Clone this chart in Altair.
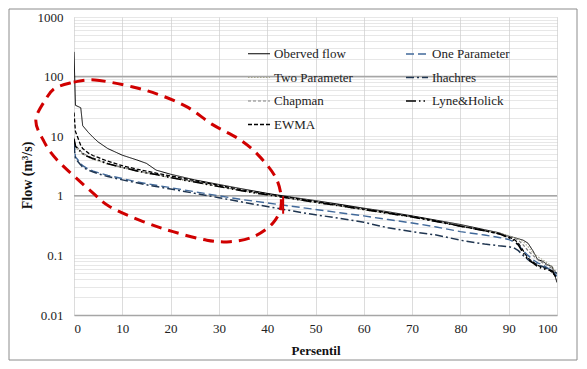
import altair as alt
import pandas as pd

# ---------------- data ----------------
percentil = [0, 0.3, 1.4, 1.8, 3, 4, 5, 7, 10, 13, 15, 17, 20, 25, 30, 35, 40, 45, 50, 55,
             60, 65, 70, 75, 80, 85, 88, 90, 91, 92, 93, 94, 95, 96, 97, 98, 99, 100]

observed = [260, 33, 30, 15, 11.5, 9.5, 8.0, 6.2, 4.8, 4.0, 3.5, 2.7, 2.3, 1.85, 1.55, 1.3, 1.1, 0.95, 0.83, 0.72,
            0.62, 0.54, 0.46, 0.39, 0.33, 0.27, 0.24, 0.21, 0.2, 0.19, 0.18, 0.16, 0.12, 0.085, 0.08, 0.07, 0.065, 0.035]
one_param = [8, 4.5, 3.5, 3.2, 2.8, 2.6, 2.45, 2.2, 1.95, 1.72, 1.6, 1.5, 1.37, 1.17, 1.0, 0.86, 0.76, 0.67, 0.59, 0.52,
             0.46, 0.4, 0.35, 0.3, 0.25, 0.22, 0.2, 0.185, 0.17, 0.15, 0.12, 0.1, 0.085, 0.075, 0.07, 0.062, 0.055, 0.045]
two_param = [8.5, 6.5, 5.3, 5.0, 4.4, 4.1, 3.85, 3.4, 2.95, 2.6, 2.4, 2.25, 2.0, 1.7, 1.42, 1.2, 1.03, 0.89, 0.77, 0.67,
             0.58, 0.5, 0.44, 0.37, 0.31, 0.26, 0.235, 0.215, 0.2, 0.19, 0.17, 0.14, 0.11, 0.095, 0.085, 0.075, 0.065, 0.05]
ihachres = [7, 4.2, 3.3, 3.0, 2.7, 2.5, 2.35, 2.1, 1.85, 1.65, 1.53, 1.43, 1.3, 1.1, 0.93, 0.78, 0.66, 0.56, 0.48, 0.42,
            0.36, 0.29, 0.25, 0.22, 0.18, 0.155, 0.145, 0.14, 0.135, 0.12, 0.1, 0.085, 0.075, 0.07, 0.065, 0.06, 0.055, 0.05]
chapman = [9.5, 7, 5.6, 5.2, 4.6, 4.3, 4.0, 3.5, 3.0, 2.65, 2.45, 2.3, 2.05, 1.72, 1.45, 1.22, 1.05, 0.9, 0.78, 0.68,
           0.59, 0.51, 0.44, 0.37, 0.31, 0.26, 0.23, 0.21, 0.2, 0.18, 0.15, 0.12, 0.1, 0.085, 0.075, 0.068, 0.06, 0.05]
lyne_holick = [9, 6.8, 5.5, 5.1, 4.5, 4.2, 3.95, 3.45, 3.0, 2.62, 2.42, 2.28, 2.02, 1.7, 1.43, 1.2, 1.04, 0.9, 0.78, 0.68,
               0.59, 0.51, 0.44, 0.37, 0.31, 0.26, 0.23, 0.2, 0.18, 0.15, 0.11, 0.085, 0.075, 0.065, 0.06, 0.058, 0.055, 0.04]
ewma = [25, 12, 7, 6.2, 5.2, 4.7, 4.4, 3.8, 3.2, 2.8, 2.6, 2.4, 2.15, 1.8, 1.5, 1.25, 1.08, 0.93, 0.80, 0.70,
        0.60, 0.52, 0.45, 0.38, 0.31, 0.26, 0.23, 0.2, 0.19, 0.16, 0.12, 0.09, 0.078, 0.068, 0.063, 0.06, 0.052, 0.042]

# legend order: column-major, 4 rows x 2 columns
series_names = ["Oberved flow", "Two Parameter", "Chapman", "EWMA",
                "One Parameter", "Ihachres", "Lyne&Holick"]
series_values = [observed, two_param, chapman, ewma, one_param, ihachres, lyne_holick]

# red dashed ellipse annotation (percentil, flow)
ellipse_p = [0, 4.3, 12.2, 17.8, 23.4, 28.8, 34.4, 38.5, 42.0, 42.9, 41.2, 37.1, 32.3, 27.5,
             20.5, 14.3, 7.5, 3.9, -3.5, -6.4, -7.9, -6.0, -3.9]
ellipse_q = [81, 88, 67, 49, 31, 15.5, 8.7, 4.5, 1.85, 0.71, 0.35, 0.205, 0.17, 0.18,
             0.25, 0.37, 0.65, 1.12, 4.0, 8.7, 18.7, 40, 64]
red_tick_p = [43.3]
red_tick_lo = [0.5]
red_tick_hi = [0.98]

major_lines = [100, 1]
minor_grid = [m * 10.0 ** k for k in range(-2, 3) for m in range(1, 10)] + [1000]
x_grid = list(range(0, 101, 5))

# ---------------- styles ----------------
colors = ["#000000", "#a8a890", "#808080", "#000000", "#41699a", "#1f3550", "#000000"]
dashes = [[1, 0], [1.5, 1.5], [3, 2], [4, 2], [8, 4], [8, 3, 2, 3], [10, 3, 1.5, 3, 1.5, 3]]
widths = [1.0, 1.6, 1.3, 2.0, 1.4, 1.3, 1.3]

rows = []
for name, vals in zip(series_names, series_values):
    for i, (p, v) in enumerate(zip(percentil, vals)):
        rows.append({"series": name, "p": p, "q": v, "i": i})
df = pd.DataFrame(rows)

ell = pd.DataFrame({"p": ellipse_p + [ellipse_p[0]], "q": ellipse_q + [ellipse_q[0]],
                    "i": list(range(len(ellipse_p) + 1))})
tick_df = pd.DataFrame({"p": red_tick_p, "lo": red_tick_lo, "hi": red_tick_hi})
major_df = pd.DataFrame({"q": major_lines})

FONT = "Liberation Serif"

xscale = alt.Scale(domain=[0, 100], nice=False, zero=False)
yscale = alt.Scale(type="log", domain=[0.01, 1000], nice=False)

x_axis = alt.Axis(values=x_grid, labelExpr="datum.value % 10 == 0 ? datum.label : ''",
                  grid=True, gridColor="#dcdcdc", gridWidth=1, ticks=False,
                  domainColor="#a6a6a6", domainWidth=1.5, labelFont=FONT, labelFontSize=13,
                  labelColor="#222", labelPadding=7, title="Persentil", titleFont=FONT,
                  titleFontSize=13, titleFontWeight="bold", titleColor="#111",
                  titleY=35, titleBaseline="middle")
y_axis = alt.Axis(values=minor_grid,
                  labelExpr="indexof(['0.01','0.1','1','10','100','1000'], datum.label) >= 0 ? datum.label : ''",
                  format="~g", grid=True, gridColor="#cfcfcf", gridDash=[1, 1], gridWidth=1,
                  ticks=False, domain=False, labelFont=FONT, labelFontSize=13, labelColor="#222",
                  labelPadding=11, title="Flow (m³/s)", titleFont=FONT, titleFontSize=14,
                  titleFontWeight="bold", titleColor="#111", titleX=-47, titleY=158,
                  titleAngle=-90, titleAlign="center", titleBaseline="middle")

base_major = alt.Chart(major_df).mark_rule(color="#a6a6a6", strokeWidth=1.5).encode(
    y=alt.Y("q:Q", scale=yscale, axis=y_axis)
)

lines = alt.Chart(df).mark_line(clip=True).encode(
    x=alt.X("p:Q", scale=xscale, axis=x_axis),
    y=alt.Y("q:Q", scale=yscale),
    order="i:Q",
    color=alt.Color("series:N", scale=alt.Scale(domain=series_names, range=colors),
                    sort=series_names, title=None),
    strokeDash=alt.StrokeDash("series:N", scale=alt.Scale(domain=series_names, range=dashes),
                              sort=series_names, title=None),
    strokeWidth=alt.StrokeWidth("series:N", scale=alt.Scale(domain=series_names, range=widths),
                                sort=series_names, title=None),
)

ellipse = alt.Chart(ell).mark_line(color="#d00000", strokeWidth=3, strokeDash=[11, 7],
                                   interpolate="cardinal-closed").encode(
    x=alt.X("p:Q", scale=xscale), y=alt.Y("q:Q", scale=yscale), order="i:Q"
)

red_tick = alt.Chart(tick_df).mark_rule(color="#d00000", strokeWidth=2).encode(
    x=alt.X("p:Q", scale=xscale), y=alt.Y("lo:Q", scale=yscale), y2="hi:Q"
)

frame = alt.Chart(pd.DataFrame({"a": [0]})).mark_rect(fill=None, stroke="#8c8c8c", strokeWidth=1).encode(
    x=alt.value(-65), x2=alt.value(503), y=alt.value(-8), y2=alt.value(343)
)

chart = alt.layer(base_major, lines, ellipse, red_tick, frame).resolve_scale(
    x="shared", y="shared"
).properties(
    width=483, height=298,
    autosize=alt.AutoSizeParams(type="none"),
    padding={"left": 66, "top": 9, "right": 22, "bottom": 46},
).configure_view(stroke=None).configure_legend(
    orient="none", legendX=173, legendY=25, columns=2, symbolType="stroke",
    symbolSize=484, labelFont=FONT, labelFontSize=13, labelColor="#222",
    labelOffset=3, rowPadding=4.5, columnPadding=49, labelLimit=200,
    symbolStrokeWidth=1.3
)

chart.save("out.html", embed_options={"renderer": "svg", "actions": False})
